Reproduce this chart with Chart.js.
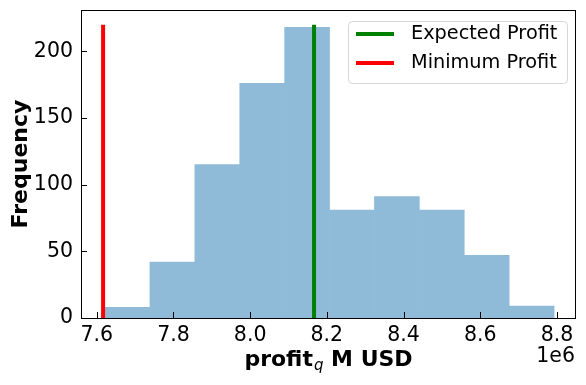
<!DOCTYPE html>
<html>
<head>
<meta charset="utf-8">
<script src="https://cdn.jsdelivr.net/npm/chart.js@4/dist/chart.umd.min.js"></script>
<style>
  body { margin: 0; background: #fff; }
  #wrap { width: 586px; height: 385px; }
</style>
</head>
<body>
<div id="wrap"><canvas id="chart" width="586" height="385"></canvas></div>
<script>
// histogram bins (profit, units of 1e6 USD)
const binEdges = [7.6216, 7.7387, 7.8558, 7.9729, 8.0900, 8.2070, 8.3241, 8.4412, 8.5583, 8.6754, 8.7925];
const counts = [8, 42, 115, 176, 218, 81, 91, 81, 47, 9];

// reference lines
const expectedProfit = 8.1666;
const minimumProfit = 7.6166;
const lineTop = 220;

const xTicks = [7.6, 7.8, 8.0, 8.2, 8.4, 8.6, 8.8];
const yTicks = [0, 50, 100, 150, 200];

const FONT = '"DejaVu Sans", sans-serif';
const TICK_SIZE = 20.5;
const LABEL_SIZE = 22;

const histData = counts.map((c, i) => ({ x: (binEdges[i] + binEdges[i + 1]) / 2, y: c }));

// рамка, засечки внутрь, подписи осей, легенда
const decor = {
    id: 'decor',
    afterDraw(chart) {
        const ctx = chart.ctx;
        const a = chart.chartArea;
        const sx = chart.scales.x, sy = chart.scales.y;
        ctx.save();
        ctx.strokeStyle = '#000';
        ctx.lineWidth = 1;
        ctx.beginPath();
        sx.ticks.forEach(t => {
            const px = Math.round(sx.getPixelForValue(t.value)) + 0.5;
            ctx.moveTo(px, a.bottom);
            ctx.lineTo(px, a.bottom - 6);
        });
        sy.ticks.forEach(t => {
            const py = Math.round(sy.getPixelForValue(t.value)) + 0.5;
            ctx.moveTo(a.left, py);
            ctx.lineTo(a.left + 6, py);
        });
        ctx.stroke();
        ctx.strokeRect(a.left + 0.5, a.top + 0.5, a.right - a.left, a.bottom - a.top);

        // x label with subscript
        ctx.fillStyle = '#000';
        ctx.textBaseline = 'alphabetic';
        const bold = 'bold ' + LABEL_SIZE + 'px ' + FONT;
        const sub = 'italic 15px ' + FONT;
        const p1 = 'profit', p2 = 'q', p3 = ' M USD';
        ctx.font = bold; const w1 = ctx.measureText(p1).width, w3 = ctx.measureText(p3).width;
        ctx.font = sub; const w2 = ctx.measureText(p2).width;
        let x = (a.left + a.right) / 2 - (w1 + w2 + w3) / 2;
        const base = 366;
        ctx.textAlign = 'left';
        ctx.font = bold; ctx.fillText(p1, x, base); x += w1 + 1;
        ctx.font = sub; ctx.fillText(p2, x, base + 3.5); x += w2;
        ctx.font = bold; ctx.fillText(p3, x, base);

        // offset text
        ctx.font = TICK_SIZE + 'px ' + FONT;
        ctx.textAlign = 'right';
        ctx.fillText('1e6', a.right, 362);

        // y label
        ctx.save();
        ctx.translate(27, (a.top + a.bottom) / 2);
        ctx.rotate(-Math.PI / 2);
        ctx.textAlign = 'center';
        ctx.font = bold;
        ctx.fillText('Frequency', 0, 0);
        ctx.restore();

        // legend
        const lx = 348.5, ly = 21.5, lw = 219, lh = 62, r = 4;
        ctx.beginPath();
        ctx.moveTo(lx + r, ly);
        ctx.arcTo(lx + lw, ly, lx + lw, ly + lh, r);
        ctx.arcTo(lx + lw, ly + lh, lx, ly + lh, r);
        ctx.arcTo(lx, ly + lh, lx, ly, r);
        ctx.arcTo(lx, ly, lx + lw, ly, r);
        ctx.closePath();
        ctx.fillStyle = 'rgba(255,255,255,0.8)';
        ctx.fill();
        ctx.strokeStyle = '#d6d6d6';
        ctx.lineWidth = 1;
        ctx.stroke();
        const items = chart.data.datasets.filter(d => d.type === 'line');
        items.forEach((d, i) => {
            const cy = 34 + i * 29;
            ctx.strokeStyle = d.borderColor;
            ctx.lineWidth = 4;
            ctx.beginPath();
            ctx.moveTo(356, cy);
            ctx.lineTo(394, cy);
            ctx.stroke();
            ctx.fillStyle = '#000';
            ctx.font = '19.3px ' + FONT;
            ctx.textAlign = 'left';
            ctx.textBaseline = 'middle';
            ctx.fillText(d.label, 411, cy);
        });
        ctx.restore();
    }
};

const bgPlugin = {
    id: 'bg',
    beforeDraw(chart) {
        const ctx = chart.ctx;
        ctx.save();
        ctx.fillStyle = '#fff';
        ctx.fillRect(0, 0, chart.width, chart.height);
        ctx.restore();
    }
};

new Chart(document.getElementById('chart'), {
    data: {
        datasets: [
            {
                type: 'line',
                label: 'Expected Profit',
                data: [{ x: expectedProfit, y: 0 }, { x: expectedProfit, y: lineTop }],
                borderColor: '#008000',
                borderWidth: 4,
                pointRadius: 0,
                borderCapStyle: 'butt'
            },
            {
                type: 'line',
                label: 'Minimum Profit',
                data: [{ x: minimumProfit, y: 0 }, { x: minimumProfit, y: lineTop }],
                borderColor: '#ff0000',
                borderWidth: 4,
                pointRadius: 0,
                borderCapStyle: 'butt'
            },
            {
                type: 'bar',
                label: 'profit',
                data: histData,
                backgroundColor: '#8fbbd9',
                borderWidth: 0,
                barPercentage: 1,
                categoryPercentage: 1
            }
        ]
    },
    options: {
        responsive: false,
        animation: false,
        layout: { padding: { left: 0, top: 10, right: 11, bottom: 0 } },
        plugins: { legend: { display: false }, tooltip: { enabled: false } },
        scales: {
            x: {
                type: 'linear',
                offset: false,
                min: 7.559,
                max: 8.847,
                grid: { display: false, drawTicks: false, offset: false },
                border: { display: false },
                afterBuildTicks: s => { s.ticks = xTicks.map(v => ({ value: v })); },
                afterFit: s => { s.height = 67; s.paddingLeft = 0; s.paddingRight = 0; },
                ticks: {
                    padding: 5,
                    color: '#000',
                    font: { family: FONT, size: TICK_SIZE },
                    maxRotation: 0,
                    autoSkip: false,
                    callback: v => Number(v).toFixed(1)
                }
            },
            y: {
                min: 0,
                max: 231,
                grid: { display: false, drawTicks: false },
                border: { display: false },
                afterBuildTicks: s => { s.ticks = yTicks.map(v => ({ value: v })); },
                afterFit: s => { s.width = 81; s.paddingTop = 0; s.paddingBottom = 0; },
                ticks: {
                    padding: 8,
                    color: '#000',
                    font: { family: FONT, size: TICK_SIZE },
                    autoSkip: false
                }
            }
        }
    },
    plugins: [bgPlugin, decor]
});
</script>
</body>
</html>
